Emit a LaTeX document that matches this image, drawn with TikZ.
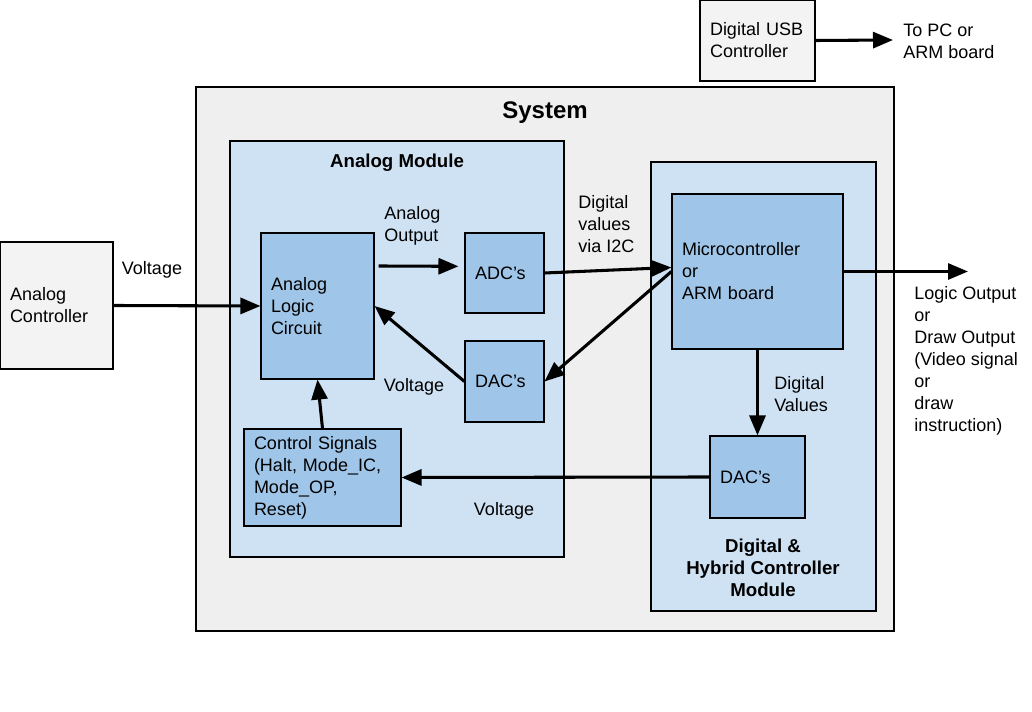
\documentclass[tikz,border=0pt]{standalone}
\usepackage{fontspec}
\setmainfont{Liberation Sans}
\usetikzlibrary{arrows.meta}

\definecolor{boxgrey}{HTML}{F3F3F3}
\definecolor{sysgrey}{HTML}{EFEFEF}
\definecolor{modblue}{HTML}{CFE2F3}
\definecolor{blkblue}{HTML}{9FC5E8}

\tikzset{
  box/.style={draw, rectangle, line width=0.8pt, inner xsep=7.5pt, inner ysep=0pt,
              align=left, font=\fontsize{13.5}{16.5}\selectfont},
  greybox/.style={box, fill=boxgrey},
  blkbox/.style={box, fill=blkblue},
  area/.style={draw, rectangle, line width=0.8pt, inner sep=0pt},
  lbl/.style={inner sep=0pt, align=left, font=\fontsize{13.5}{16.5}\selectfont},
  ttl/.style={inner sep=0pt, align=center, font=\bfseries\fontsize{14}{16.5}\selectfont},
  arr/.style={line width=2.3pt, -{Triangle[length=15pt,width=12pt]}}
}

\begin{document}
\begin{tikzpicture}[x=0.75pt, y=-0.75pt]
\useasboundingbox (0,0) rectangle (1032,712);

% outer areas
\node[area, fill=sysgrey, minimum width=523.5pt, minimum height=408pt] (system) at (545,359) {};
\node[area, fill=modblue, minimum width=250.5pt, minimum height=312pt] (amod) at (397,349) {};
\node[area, fill=modblue, minimum width=168.75pt, minimum height=336.75pt] (dmod) at (763.5,386.5) {};

\node[ttl, font=\bfseries\fontsize{18}{20}\selectfont] (systitle) at (545,113) {System};
\node[ttl] (amodtitle) at (397,163) {Analog Module};
\node[ttl] (dmodtitle) at (763,568) {Digital \&\\Hybrid Controller\\Module};

% blocks
\node[greybox, minimum width=84.75pt, minimum height=95.25pt, text width=69.75pt]
  (actrl) at (56.5,305.5) {Analog\\Controller};
\node[greybox, minimum width=86.25pt, minimum height=60.75pt, text width=71.25pt]
  (usb) at (757.5,40.5) {Digital USB\\Controller};
\node[blkbox, minimum width=84.75pt, minimum height=109.5pt, text width=69.75pt]
  (alc) at (317.5,306) {Analog\\Logic\\Circuit};
\node[blkbox, minimum width=59.25pt, minimum height=60pt, text width=44.25pt]
  (adc) at (504.5,273) {ADC’s};
\node[blkbox, minimum width=59.25pt, minimum height=60.75pt, text width=44.25pt]
  (dac1) at (504.5,381.5) {DAC’s};
\node[blkbox, minimum width=117.75pt, minimum height=72.75pt, text width=102.75pt]
  (ctrl) at (322.5,477.5) {Control Signals\\(Halt, Mode\_IC,\\Mode\_OP,\\Reset)};
\node[blkbox, minimum width=128.25pt, minimum height=116.25pt, text width=113.25pt]
  (mcu) at (757.5,271.5) {Microcontroller\\or\\ARM board};
\node[blkbox, minimum width=71.25pt, minimum height=61.5pt, text width=56.25pt]
  (dac2) at (757.5,477) {DAC’s};

\coordinate (pctip) at (893,40);
\coordinate (outtip) at (968,271.5);

% labels
\node[lbl] (vin) at (152,270) {Voltage};
\node[lbl, anchor=west] (aout) at (384,226) {Analog\\Output};
\node[lbl, anchor=west] (i2c) at (578,224) {Digital\\values\\via I2C};
\node[lbl] (vback) at (414,387) {Voltage};
\node[lbl, anchor=west] (topc) at (903,41) {To PC or\\ARM board};
\node[lbl, anchor=west] (lout) at (914,361) {Logic Output\\or\\Draw Output\\(Video signal\\or\\draw\\instruction)};
\node[lbl, anchor=west] (dval) at (774,394) {Digital\\Values};
\node[lbl] (vctrl) at (504,511) {Voltage};

% connectors
\draw[arr] (actrl.east) -- (alc.west);
\draw[arr] ([xshift=3pt, yshift=30pt]alc.east) -- ([xshift=-4.5pt, yshift=5pt]adc.west);
\draw[arr] (adc.east) -- ([yshift=3pt]mcu.west);
\draw[arr] (mcu.west) -- (dac1.east);
\draw[arr] (dac1.west) -- (alc.east);
\draw[arr] (ctrl.north) -- (alc.south);
\draw[arr] (mcu.east) -- (outtip);
\draw[arr] (mcu.south) -- (dac2.north);
\draw[arr] (dac2.west) -- (ctrl.east);
\draw[arr] (usb.east) -- (pctip);
\end{tikzpicture}
\end{document}
